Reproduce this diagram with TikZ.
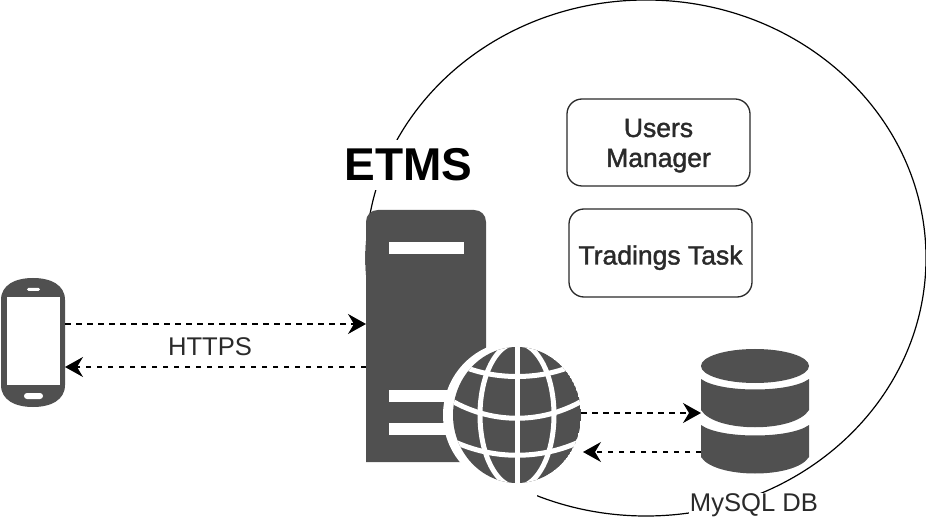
\documentclass[tikz,border=0pt]{standalone}
\usepackage{fontspec}
\setmainfont{Liberation Sans}
\newfontfamily\boxfont[FakeBold=1.5]{Liberation Sans}
\usetikzlibrary{arrows.meta}
\definecolor{icon}{HTML}{505050}
\definecolor{ink}{HTML}{2A2A2A}
\tikzset{
  px/.style={x=1pt,y=-1pt},
  taskbox/.style={draw=ink,line width=1.3pt,rounded corners=15pt,inner sep=0pt,align=center,font=\boxfont\fontsize{26.5}{30}\selectfont,text=ink},
  anchorbox/.style={inner sep=0pt,outer sep=0pt},
  link/.style={dash pattern=on 5.5pt off 5.5pt,line width=1.5pt,black,-{Stealth[length=18pt,width=20pt,inset=6pt]}},
  label/.style={font=\fontsize{25.6}{30}\selectfont,text=ink,inner sep=0pt},
  gline/.style={draw=white,line width=5pt}
}
\begin{document}
\begin{tikzpicture}[px]
\useasboundingbox (0,0) rectangle (926,518);
\fill[white] (0,0) rectangle (926,518);
% boundary ellipse
\draw[line width=1.2pt,black] (646,258) ellipse [x radius=280,y radius=258];
% mask under server/globe
\fill[white] (355,462) rectangle (537,518);
% server
\fill[icon] (366,462) -- (366,222) .. controls (366,215) and (371,210) .. (378,210) -- (474,210) .. controls (481,210) and (486,215) .. (486,222) -- (486,462) -- cycle;
\fill[white] (389,242) rectangle (464,254);
\fill[white] (389,390) rectangle (460,402);
\fill[white] (389,423) rectangle (460,435);
\node[anchorbox,minimum width=120pt,minimum height=252pt] (server) at (426,336) {};
% globe
\fill[white] (517,415) circle [radius=74];
\begin{scope}
\clip (517,415) ellipse [x radius=64,y radius=68];
\fill[icon] (517,415) ellipse [x radius=64,y radius=68];
\draw[gline] (517,340) -- (517,490);
\draw[gline] (517,415) ellipse [x radius=37,y radius=72];
\draw[gline] (462,366) .. controls (495,380) and (539,380) .. (572,366);
\draw[gline] (447,398) .. controls (490,425) and (544,425) .. (587,398);
\draw[gline] (447,438) .. controls (490,461) and (544,461) .. (587,438);
\draw[gline] (473,350) .. controls (462,358) and (455,365) .. (448,370);
\draw[gline] (561,350) .. controls (572,358) and (579,365) .. (586,370);
\end{scope}
\node[anchorbox,minimum width=128pt,minimum height=136pt] (globe) at (517,415) {};
% phone
\fill[icon] (1,300) .. controls (1,285) and (15,278) .. (33,278) .. controls (51,278) and (65,285) .. (65,300) -- (65,385) .. controls (65,400) and (51,407) .. (33,407) .. controls (15,407) and (1,400) .. (1,385) -- cycle;
\fill[white] (7,297) rectangle (60,385);
\fill[white,rounded corners=1.5pt] (27,288) rectangle (40,291);
\fill[white,rounded corners=3pt] (24,393) rectangle (43,399);
\node[anchorbox,minimum width=64pt,minimum height=129pt] (phone) at (33,342.5) {};
% database
\fill[icon] (755,366) ellipse [x radius=54,y radius=17];
\fill[icon] (701,379) .. controls (720,393) and (790,393) .. (809,379) -- (809,410) .. controls (795,433) and (715,433) .. (701,410) -- cycle;
\fill[icon] (701,425) .. controls (720,439) and (790,439) .. (809,425) -- (809,457) .. controls (795,479) and (715,479) .. (701,457) -- cycle;
\node[anchorbox,minimum width=108pt,minimum height=123pt] (db) at (755,411.5) {};
% connectors
\draw[link] ([yshift=18.5pt]phone.east) -- ([yshift=18.5pt]server.west |- phone.east);
\draw[link] ([yshift=-24.5pt]server.west |- phone.east) -- ([yshift=-24.5pt]phone.east);
\draw[link] ([yshift=-1.5pt]globe.east |- db.center) -- ([yshift=-1.5pt]db.west);
\draw[link] ([yshift=-40.5pt]db.west) -- ([yshift=-40.5pt,xshift=2pt]globe.east |- db.center);
% labels
\node[label] (https) at (210,347) {HTTPS};
\node[fill=white,inner sep=1pt,label,minimum width=130pt,minimum height=24pt] (mysql) at (754,505) {MySQL DB};
\node[anchor=center,fill=white,inner sep=0pt,minimum width=132pt,minimum height=50pt,font=\bfseries\fontsize{46}{50}\selectfont,text=black] (etms) at (408.5,165) {ETMS};
\node[taskbox,minimum width=183pt,minimum height=87pt] (users) at (658.5,142.5) {\raisebox{-9.5pt}[0pt][0pt]{Users}\\\raisebox{-9.5pt}[0pt][0pt]{Manager}};
\node[taskbox,minimum width=183pt,minimum height=88pt] (tasks) at (660.5,253) {\raisebox{-11.5pt}[0pt][0pt]{Tradings Task}};
\end{tikzpicture}
\end{document}
